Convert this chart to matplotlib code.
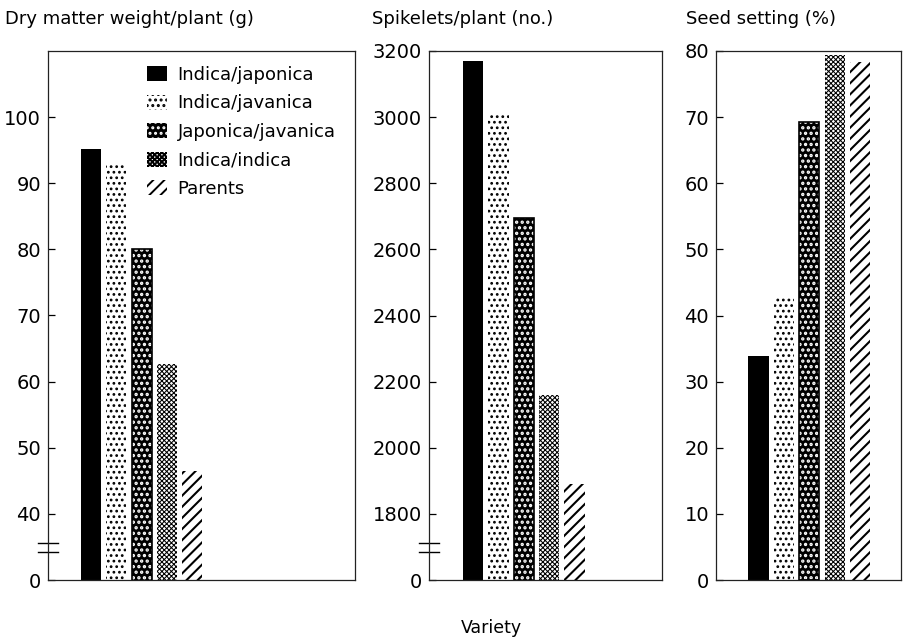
import numpy as np
import matplotlib.pyplot as plt
from matplotlib.patches import Patch

plt.rcParams['font.family'] = ['DejaVu Sans']
plt.rcParams['hatch.linewidth'] = 1.4

# data
varieties = ['Indica/japonica', 'Indica/javanica', 'Japonica/javanica',
             'Indica/indica', 'Parents']
dry_matter = [95.2, 92.7, 80.0, 62.6, 46.5]      # g/plant
spikelets = [3170, 3010, 2695, 2160, 1890]      # no./plant
seed_setting = [33.8, 42.8, 69.2, 79.4, 78.3]   # %

dm_ticks = [30, 40, 50, 60, 70, 80, 90, 100]
dm_labels = ['0', '40', '50', '60', '70', '80', '90', '100']
sp_ticks = [1600, 1800, 2000, 2200, 2400, 2600, 2800, 3000, 3200]
sp_labels = ['0', '1800', '2000', '2200', '2400', '2600', '2800', '3000', '3200']
ss_ticks = [0, 10, 20, 30, 40, 50, 60, 70, 80]

# face, hatch colour, hatch, hatch lw, outline
styles = [
    ('black', 'black', None, 1.0, False),
    ('white', 'black', '...', 1.2, False),
    ('black', 'white', '...', 1.6, True),
    ('white', 'black', 'xxxxxxx', 0.75, False),
    ('white', 'black', '///', 1.5, False),
]

W, H = 906, 643
fig = plt.figure(figsize=(W / 100, H / 100), dpi=100)


def make_ax(x0, x1, y0=51, y1=580):
    return fig.add_axes([x0 / W, 1 - y1 / H, (x1 - x0) / W, (y1 - y0) / H])


def set_hlw(p, lw):
    if hasattr(p, 'set_hatch_linewidth'):
        p.set_hatch_linewidth(lw)


def draw_bars(ax, values):
    x = np.arange(len(values))
    for i, (face, hc, hatch, hlw, outline) in enumerate(styles):
        bars = ax.bar(x[i], values[i], width=0.8, color=face, edgecolor=hc,
                      hatch=hatch, linewidth=0)
        for b in bars:
            set_hlw(b, hlw)
        if outline:
            ax.bar(x[i], values[i], width=0.8, fill=False,
                   edgecolor='black', linewidth=1.2)


def style_ax(ax):
    for s in ax.spines.values():
        s.set_linewidth(0.9)
        s.set_color('#222222')
    ax.set_xticks([])
    ax.tick_params(axis='y', direction='in', length=5, width=0.9,
                   labelsize=14, pad=5)


def draw_break(ax):
    wpx = ax.get_position().width * W
    dx = 10 / wpx
    ax.plot([-dx, dx], [0.061, 0.061], transform=ax.transAxes, color='white',
            lw=7, clip_on=False, solid_capstyle='butt')
    for y in (0.0698, 0.0528):
        ax.plot([-dx, dx], [y, y], transform=ax.transAxes, color='black',
                lw=1.0, clip_on=False)


# panel 1
ax1 = make_ax(48, 355)
draw_bars(ax1, dry_matter)
ax1.set_xlim(-1.70, 10.43)
ax1.set_ylim(30, 110)
ax1.set_yticks(dm_ticks)
ax1.set_yticklabels(dm_labels)
style_ax(ax1)
draw_break(ax1)

# panel 2
ax2 = make_ax(429, 662)
draw_bars(ax2, spikelets)
ax2.set_xlim(-1.73, 7.44)
ax2.set_ylim(1600, 3200)
ax2.set_yticks(sp_ticks)
ax2.set_yticklabels(sp_labels)
style_ax(ax2)
draw_break(ax2)

# panel 3
ax3 = make_ax(716, 901)
draw_bars(ax3, seed_setting)
ax3.set_xlim(-1.67, 5.61)
ax3.set_ylim(0, 80)
ax3.set_yticks(ss_ticks)
style_ax(ax3)

# legend
handles = []
for face, hc, hatch, hlw, outline in styles:
    p = Patch(facecolor=face, edgecolor=hc, hatch=hatch, linewidth=0)
    set_hlw(p, hlw)
    handles.append(p)
leg = ax1.legend(handles, varieties, loc='upper left',
                 bbox_to_anchor=(147 / W, 1 - 66 / H), bbox_transform=fig.transFigure,
                 frameon=False, fontsize=13, handlelength=1.1, handleheight=0.9,
                 handletextpad=0.6, labelspacing=0.58, borderpad=0, borderaxespad=0)

# titles
fig.text(5 / W, 1 - 24 / H, 'Dry matter weight/plant (g)', fontsize=13, va='baseline')
fig.text(372 / W, 1 - 24 / H, 'Spikelets/plant (no.)', fontsize=13, va='baseline')
fig.text(686 / W, 1 - 24 / H, 'Seed setting (%)', fontsize=13, va='baseline')
fig.text(491 / W, 1 - 628 / H, 'Variety', fontsize=12.5, ha='center', va='center')

fig.savefig('out.png', dpi=100)
